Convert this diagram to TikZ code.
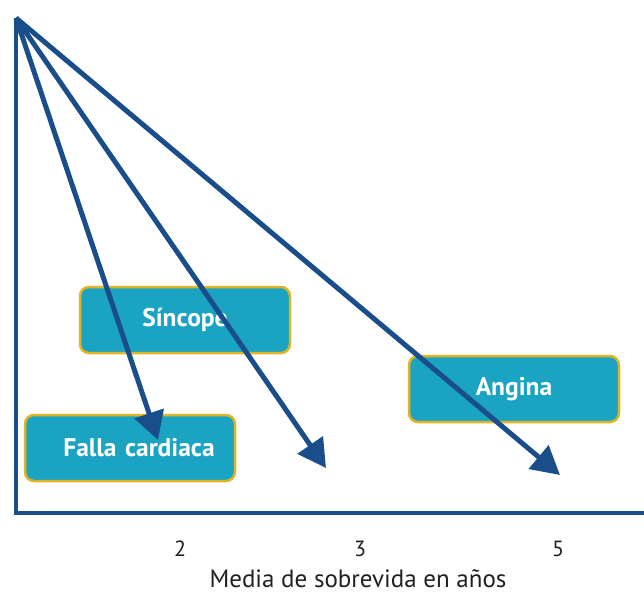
\documentclass[tikz,border=0pt]{standalone}
\usepackage{fontspec}
\setmainfont{PT Sans}
\usetikzlibrary{arrows.meta}
\definecolor{arrowblue}{HTML}{1A4E8A}
\definecolor{boxteal}{HTML}{1BA3C2}
\definecolor{boxgold}{HTML}{E0B424}
\definecolor{labelgray}{HTML}{231F20}

\begin{document}
\begin{tikzpicture}[x=1pt, y=-1pt,
  survbox/.style={draw=boxgold, fill=boxteal, line width=2.5pt, rounded corners=9pt,
    minimum width=210pt, minimum height=66pt, text=white,
    font=\fontsize{25.5}{25.5}\selectfont\bfseries},
  survarrow/.style={draw=arrowblue, line width=5pt, -{Triangle[length=28pt, width=30pt]}},
  ticklabel/.style={text=labelgray, font=\fontsize{22}{22}\selectfont}]
\useasboundingbox (0,0) rectangle (644,596);

  % axes
  \coordinate (apex) at (16,18);
  \coordinate (origin) at (16,513);
  \coordinate (xend) at (644,513);
  \draw[arrowblue, line width=4pt, miter limit=20] (apex) -- (origin) -- (xend);

  % boxes
  \node[survbox] (sincope) at (185,320) {Síncope};
  \node[survbox, inner xsep=0pt, text width=210pt, align=center] (falla) at (130,448) {\hspace*{18pt}Falla cardiaca};
  \node[survbox] (angina) at (514,389) {Angina};

  % arrows, drawn over the boxes
  \coordinate (tipfalla) at (158,440);
  \coordinate (tipsincope) at (326,468);
  \coordinate (tipangina) at (560,475);
  \draw[survarrow] (apex) -- (tipfalla); % 2 years
  \draw[survarrow] (apex) -- (tipsincope); % 3 years
  \draw[survarrow] (apex) -- (tipangina); % 5 years

  % x labels
  \node[ticklabel] (two) at (180,549) {2};
  \node[ticklabel] (three) at (360,549) {3};
  \node[ticklabel] (five) at (558,549) {5};
  \node[ticklabel, font=\fontsize{25}{25}\selectfont] (xtitle) at (358,579) {Media de sobrevida en años};
\end{tikzpicture}
\end{document}
